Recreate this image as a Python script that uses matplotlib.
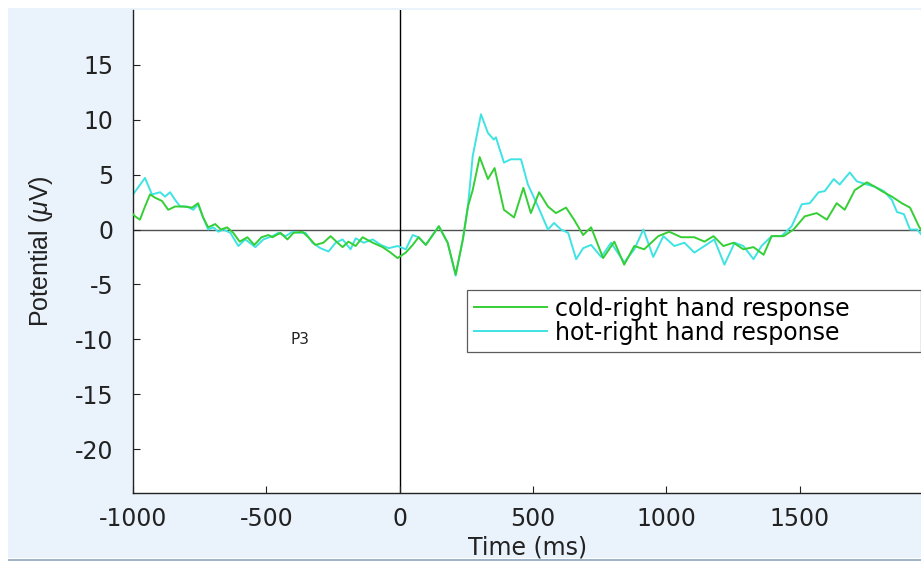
import matplotlib
matplotlib.use("Agg")
import matplotlib.pyplot as plt
from matplotlib import font_manager

# ERP traces (time in ms, potential in uV)
cold_t = [-1000, -992, -974, -955, -936, -917, -891, -868, -842, -812, -778, -756, -737, -718,
          -692, -670, -647, -624, -600, -571, -545, -518, -492, -477, -447, -421, -398, -365,
          -342, -316, -286, -259, -233, -214, -192, -165, -139, -101, -64, -34, -8, 23, 49,
          71, 98, 147, 180, 210, 237, 256, 274, 300, 331, 356, 391, 429, 464, 492, 523, 556,
          586, 624, 654, 688, 718, 763, 805, 842, 880, 917, 970, 1011, 1056, 1105, 1143,
          1177, 1214, 1252, 1289, 1327, 1365, 1395, 1440, 1477, 1519, 1564, 1602, 1639,
          1669, 1707, 1752, 1782, 1808, 1846, 1883, 1914, 1947, 1962]
cold_v = [1.4, 1.2, 0.9, 2.1, 3.2, 2.9, 2.6, 1.8, 2.1, 2.1, 2.0, 2.4, 1.1, 0.2,
          0.5, 0.0, 0.2, -0.3, -1.1, -0.7, -1.4, -0.7, -0.5, -0.7, -0.3, -0.9, -0.3, -0.2,
          -0.7, -1.4, -1.2, -0.6, -1.2, -1.6, -1.1, -1.5, -0.7, -1.2, -1.6, -2.1, -2.6, -2.1, -1.4,
          -0.7, -1.4, 0.3, -1.2, -4.1, -0.9, 2.1, 3.6, 6.6, 4.6, 5.6, 1.8, 1.1, 3.8, 1.5, 3.4, 2.1,
          1.5, 2.0, 0.9, -0.5, 0.2, -2.6, -1.1, -3.2, -1.5, -1.8, -0.6, -0.2, -0.7, -0.7, -1.1,
          -0.6, -1.5, -1.2, -1.8, -1.6, -2.3, -0.6, -0.6, 0.0, 1.2, 1.5, 0.9, 2.4,
          1.8, 3.6, 4.3, 3.9, 3.5, 3.0, 2.4, 2.0, 0.3, -0.3]

hot_t = [-1000, -955, -929, -898, -880, -861, -842, -823, -797, -774, -756, -737, -718, -699,
         -680, -661, -635, -605, -579, -541, -511, -477, -455, -428, -402, -376, -353, -327,
         -297, -267, -240, -214, -184, -165, -135, -101, -71, -41, -8, 23, 49, 71, 98, 147,
         180, 210, 237, 256, 274, 305, 331, 353, 361, 391, 417, 455, 481, 519, 556, 579, 605,
         632, 662, 688, 718, 756, 793, 842, 880, 914, 951, 989, 1030, 1068, 1105, 1143, 1180,
         1218, 1256, 1289, 1327, 1357, 1395, 1432, 1470, 1508, 1538, 1571, 1594, 1628, 1650,
         1688, 1714, 1752, 1782, 1816, 1846, 1865, 1891, 1914, 1940, 1962]
hot_v = [3.2, 4.7, 3.2, 3.4, 3.0, 3.4, 2.7, 2.1, 2.1, 1.8, 2.3, 1.1, 0.0, 0.2,
         -0.2, 0.0, -0.3, -1.5, -0.9, -1.6, -0.9, -0.6, -0.3, -0.6, -0.2, -0.3, -0.3, -1.2,
         -1.7, -2.0, -1.2, -0.9, -1.8, -0.8, -1.2, -0.9, -1.4, -1.7, -1.5, -1.8, -0.5, -0.7, -1.4, 0.3,
         -1.2, -4.2, -0.9, 2.1, 6.7, 10.5, 8.8, 8.2, 8.4, 6.1, 6.4, 6.4, 4.1, 2.1, 0.0, 0.6, 0.0,
         -0.3, -2.7, -1.7, -1.4, -2.5, -1.2, -3.0, -1.8, 0.0, -2.5, -0.6, -1.5, -1.2, -2.1, -1.5, -0.9,
         -3.2, -1.2, -1.5, -2.7, -1.5, -0.6, -0.6, 0.3, 2.3, 2.4, 3.4, 3.5, 4.6, 4.1,
         5.2, 4.4, 4.1, 3.9, 3.5, 2.7, 1.6, 1.4, 0.0, 0.0, -0.6]

x_ticks = [-1000, -500, 0, 500, 1000, 1500]
y_ticks = [-20, -15, -10, -5, 0, 5, 10, 15]
labels = ["cold-right hand response", "hot-right hand response"]

names = {f.name for f in font_manager.fontManager.ttflist}
ylab_font = "Liberation Sans Narrow" if "Liberation Sans Narrow" in names else "Liberation Sans"
plt.rcParams["font.family"] = ["DejaVu Sans"]
plt.rcParams["axes.unicode_minus"] = False
plt.rcParams["mathtext.fontset"] = "custom"
plt.rcParams["mathtext.it"] = ylab_font + ":italic"
plt.rcParams["mathtext.rm"] = ylab_font

fig = plt.figure(figsize=(9.21, 5.61), dpi=100, facecolor="white")
# light blue panel behind the axes (screenshot background)
fig.patches.append(plt.Rectangle((8 / 921, 3 / 561), 1, 1 - 11 / 561, transform=fig.transFigure,
                                 facecolor="#eaf2fb", edgecolor="none", zorder=-1))
fig.patches.append(plt.Rectangle((8 / 921, 0), 1, 2 / 561, transform=fig.transFigure,
                                 facecolor="#9fb4c8", edgecolor="none", zorder=-1))

ax = fig.add_axes([133 / 921, 68 / 561, 1 - 133 / 921 + 0.002, 483 / 561])
ax.set_facecolor("white")

ax.plot(cold_t, cold_v, color="#35cf35", lw=1.4, label=labels[0], zorder=3)
ax.plot(hot_t, hot_v, color="#3fe3e3", lw=1.4, label=labels[1], zorder=2)
ax.axhline(0, color="#505050", lw=1.0, zorder=1)
ax.axvline(0, color="black", lw=1.0, zorder=1)

ax.set_xlim(-1000, 1962)
ax.set_ylim(-24, 20)
ax.set_xticks(x_ticks)
ax.set_yticks(y_ticks)
ax.tick_params(direction="in", length=5, width=0.8, labelsize=17, pad=10, colors="#222222")
ax.tick_params(axis="y", pad=14)
for s in ["top", "right"]:
    ax.spines[s].set_visible(False)
for s in ["left", "bottom"]:
    ax.spines[s].set_color("#222222")
    ax.spines[s].set_linewidth(1.0)

ax.set_ylabel(r"Potential ($\mu$V)", fontsize=18, family=ylab_font, color="#222222", labelpad=14)
ax.set_xlabel("Time (ms)", fontsize=17, color="#222222", va="bottom")
ax.xaxis.set_label_coords(0.5, (2 - 68) / 483)

ax.text(-372, -10, "P3", fontsize=11, ha="center", va="center", color="#222222")

leg = ax.legend(loc="upper left", bbox_to_anchor=((466 - 133) / 788, 0.0, 1 - (466 - 133) / 788 - 0.002, 0.421),
                mode="expand", fontsize=17, frameon=True, fancybox=False,
                handlelength=3.1, handletextpad=0.35, labelspacing=0.0, borderpad=0.3,
                borderaxespad=0)
leg.get_frame().set_edgecolor("#333333")
leg.get_frame().set_linewidth(0.9)

fig.savefig("out.png", dpi=100, facecolor=fig.get_facecolor())
